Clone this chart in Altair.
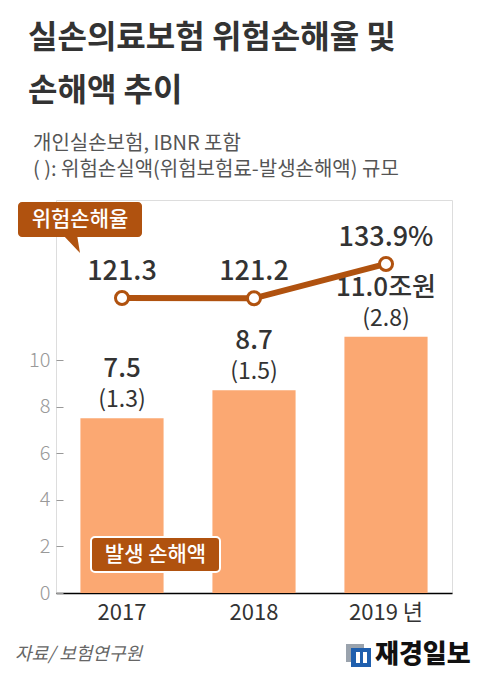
import altair as alt
import pandas as pd

years = ["2017", "2018", "2019"]
loss_amount = [7.5, 8.7, 11.0]          # 발생 손해액 (조원)
risk_loss = [1.3, 1.5, 2.8]             # 위험손실액 (조원)
loss_ratio = [121.3, 121.2, 133.9]      # 위험손해율 (%)
y_ticks = [0, 2, 4, 6, 8, 10]

FONT = "Noto Sans CJK KR"
BROWN = "#B0520F"
BAR = "#FBA872"
DARK = "#333333"

df = pd.DataFrame({"year": years, "loss": loss_amount, "risk": risk_loss, "ratio": loss_ratio})

x_enc = alt.X(
    "year:N",
    sort=years,
    scale=alt.Scale(paddingInner=0.37, paddingOuter=0.185),
    axis=alt.Axis(
        title=None, ticks=False, domainColor="#000000", domainWidth=1.5,
        labelFont=FONT, labelFontSize=22, labelFontWeight=400, labelColor=DARK, labelPadding=9,
        labelAngle=0,
        labelExpr="datum.value == '2019' ? '2019 년' : datum.value",
    ),
)

base = alt.Chart(df).encode(x=x_enc)

y_bar = alt.Y(
    "loss:Q",
    scale=alt.Scale(domain=[0, 16.87], nice=False, zero=True),
    axis=alt.Axis(
        title=None, values=y_ticks, grid=False, domain=False,
        tickColor="#999999", tickSize=7, tickWidth=1, offset=-7,
        labelFont=FONT, labelFontSize=20, labelFontWeight=300,
        labelColor="#999999", labelPadding=6,
    ),
)

bars = base.mark_bar(color=BAR).encode(y=y_bar)
bar_val = base.mark_text(font=FONT, fontSize=26, fontWeight=500, color=DARK, dy=-49).transform_calculate(
    lbl="datum.year == '2019' ? format(datum.loss, '.1f') + '조원' : format(datum.loss, '.1f')"
).encode(y=y_bar, text="lbl:N")
bar_paren = base.mark_text(font=FONT, fontSize=23, fontWeight=400, color=DARK, dy=-18).transform_calculate(
    lbl="'(' + format(datum.risk, '.1f') + ')'"
).encode(y=y_bar, text="lbl:N")

bar_layer = alt.layer(bars, bar_val, bar_paren)

y_line = alt.Y("ratio:Q", scale=alt.Scale(domain=[12.0, 157.6], nice=False, zero=False), axis=None)
line = base.mark_line(color=BROWN, strokeWidth=6).encode(y=y_line)
pts = base.mark_point(filled=True, fill="white", stroke=BROWN, strokeWidth=3, size=170, opacity=1).encode(y=y_line)
line_lbl = base.mark_text(font=FONT, fontSize=27, fontWeight=500, color=DARK, dy=-26).transform_calculate(
    lbl="datum.year == '2019' ? format(datum.ratio, '.1f') + '%' : format(datum.ratio, '.1f')"
).encode(y=y_line, text="lbl:N")

line_layer = alt.layer(line, pts, line_lbl)

one = pd.DataFrame({"a": [0]})


def txt(s, x, y, **kw):
    return alt.Chart(one).mark_text(text=s, font=FONT, baseline="middle", **kw).encode(
        x=alt.value(x), y=alt.value(y)
    )


def box(x1, x2, y1, y2, **kw):
    return alt.Chart(one).mark_rect(**kw).encode(
        x=alt.value(x1), x2=alt.value(x2), y=alt.value(y1), y2=alt.value(y2)
    )


title1 = txt("실손의료보험 위험손해율 및", -28, -162, align="left", fontSize=32, fontWeight="bold", color=DARK)
title2 = txt("손해액 추이", -28, -109, align="left", fontSize=32, fontWeight="bold", color=DARK)
sub1 = txt("개인실손보험, IBNR 포함", -23, -56, align="left", fontSize=20, color="#555555")
sub2 = txt("( ): 위험손실액(위험보험료-발생손해액) 규모", -23, -30, align="left", fontSize=20, color="#555555")

ratio_box = box(-38, 86, 2, 37, color=BROWN, cornerRadius=4)
ratio_ptr = alt.Chart(one).mark_point(
    shape="M-0.89,-1.1 L0.67,-1.1 L1,0.89 Z", filled=True, fill=BROWN, stroke=BROWN, strokeWidth=0, size=324, opacity=1
).encode(x=alt.value(15), y=alt.value(45))
ratio_txt = txt("위험손해율", 24, 19.5, align="center", fontSize=21, fontWeight=500, color="white")

loss_box = box(35, 164, 337, 372, color=BROWN, cornerRadius=4, stroke="white", strokeWidth=2)
loss_txt = txt("발생 손해액", 99.5, 354.5, align="center", fontSize=21, fontWeight=500, color="white")

src = txt("자료/ 보험연구원", -41, 455, align="left", fontSize=18, fontStyle="italic", color="#666666")
logo_a = box(290, 308, 444, 462, color="#9AA3AD")
logo_b = box(295, 315, 448, 467, color="#1F5FAE")
logo_c = box(300, 304, 452, 463, color="white")
logo_d = box(307, 311, 452, 463, color="white")
logo_txt = txt("재경일보", 319, 455, align="left", fontSize=26, fontWeight=900, color="#111111")

chart = alt.layer(
    bar_layer, line_layer,
    title1, title2, sub1, sub2,
    ratio_box, ratio_ptr, ratio_txt, loss_box, loss_txt,
    src, logo_a, logo_b, logo_c, logo_d, logo_txt,
).resolve_scale(y="independent").properties(
    width=396, height=393,
    autosize="none",
    padding={"left": 48, "top": 192, "right": 29, "bottom": 78},
).configure_view(stroke=None).configure(background="white")

chart.save("out.html", embed_options={"renderer": "svg", "actions": False})
